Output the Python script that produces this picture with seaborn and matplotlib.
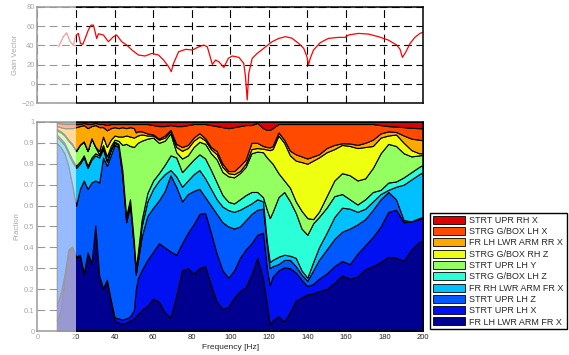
import numpy as np
import matplotlib
matplotlib.use("Agg")
import matplotlib.pyplot as plt
import seaborn as sns
from matplotlib.patches import Patch, Rectangle

# --- gain vector (top panel) ---
gain_freq = [11, 13.4, 15.1, 16.9, 18.6, 19.8, 21.2, 22.3, 23.5, 24.7,
             26.4, 27.8, 29, 29.9, 30.7, 31.6, 34.2, 36.8, 39.4, 41.1,
             43.7, 46.3, 49, 52.4, 55.9, 59.3, 62.8, 65.4, 68, 69.4,
             70.6, 73.2, 76.9, 80.3, 83.8, 86.4, 88.1, 90.7, 92.4, 94.1,
             96.7, 99, 101, 104.5, 107, 107.9, 108.8, 109.6, 111.4, 114,
             117.4, 121.7, 125.2, 128.6, 132, 135.5, 138.1, 139.8, 140.6, 141.5,
             143.2, 146.7, 150.9, 156.2, 159.6, 161.3, 166.5, 171.7, 176.9, 182,
             186.4, 188.1, 189.3, 190.7, 193.3, 195.8, 198.4, 200]
gain_vals = [38.6, 49, 53, 44, 40, 50, 52.4, 42, 41, 47,
             56, 61, 61, 54, 47, 52, 50.7, 43.8, 49, 50.7,
             43.8, 40.3, 35.2, 30, 29, 31.7, 30, 24.8, 18, 12.8,
             21.4, 33.4, 35.9, 35.2, 38.6, 40.3, 38.5, 20.3, 24.8, 23,
             17.2, 26.6, 29, 27.6, 21.4, 7.6, -16.5, 11, 26.6, 31.7,
             37, 43.8, 47.2, 49, 47.5, 42, 37, 28.3, 19.7, 26.6,
             35.2, 42.8, 47.2, 48.3, 48.3, 50.7, 52.4, 51.7, 49, 45.5,
             40.3, 35.9, 27.6, 31.7, 42, 48.3, 52.4, 53.5]

# --- cumulative fractions (bottom panel), top edge of each component ---
freq = [10, 12, 14, 16, 18, 20, 22, 24, 26, 28,
        30, 32, 34, 36, 38, 40, 42, 44, 46, 48,
        50, 51, 52, 54, 57, 60, 63, 66, 69, 72,
        75, 78, 81, 84, 87, 90, 93, 96, 99, 102,
        105, 108, 111, 114, 117, 119, 120.5, 122, 125, 128,
        131, 134, 137, 140, 143, 146, 150, 154, 158, 162,
        166, 170, 174, 178, 182, 186, 190, 194, 198, 200]

top_fr_lh_lwr_arm_fr_x = [0.05, 0.10, 0.25, 0.38, 0.40, 0.35, 0.36, 0.27, 0.37, 0.32,
                          0.50, 0.26, 0.20, 0.24, 0.14, 0.05, 0.04, 0.035, 0.04, 0.05,
                          0.06, 0.07, 0.08, 0.10, 0.12, 0.155, 0.14, 0.09, 0.065, 0.17,
                          0.29, 0.30, 0.275, 0.30, 0.31, 0.22, 0.14, 0.105, 0.115, 0.16,
                          0.19, 0.21, 0.27, 0.35, 0.25, 0.13, 0.03, 0.05, 0.07, 0.045,
                          0.09, 0.145, 0.16, 0.175, 0.18, 0.19, 0.20, 0.23, 0.265, 0.25,
                          0.26, 0.295, 0.31, 0.33, 0.355, 0.35, 0.335, 0.39, 0.425, 0.43]
top_strt_upr_lh_x = [0.12, 0.18, 0.27, 0.39, 0.405, 0.355, 0.365, 0.275, 0.375, 0.325,
                     0.505, 0.265, 0.205, 0.245, 0.15, 0.065, 0.06, 0.055, 0.06, 0.07,
                     0.10, 0.20, 0.25, 0.29, 0.34, 0.38, 0.42, 0.40, 0.38, 0.365,
                     0.42, 0.47, 0.51, 0.56, 0.565, 0.47, 0.37, 0.29, 0.255, 0.29,
                     0.35, 0.39, 0.42, 0.46, 0.47, 0.30, 0.22, 0.26, 0.29, 0.305,
                     0.30, 0.28, 0.245, 0.215, 0.225, 0.25, 0.275, 0.31, 0.335, 0.32,
                     0.37, 0.41, 0.45, 0.50, 0.57, 0.58, 0.52, 0.525, 0.535, 0.54]
top_strt_upr_lh_z = [0.90, 0.88, 0.85, 0.79, 0.70, 0.60, 0.68, 0.72, 0.68, 0.71,
                     0.72, 0.71, 0.83, 0.79, 0.84, 0.89, 0.88, 0.74, 0.52, 0.60,
                     0.40, 0.27, 0.33, 0.45, 0.55, 0.59, 0.625, 0.67, 0.745, 0.69,
                     0.62, 0.655, 0.67, 0.68, 0.64, 0.60, 0.56, 0.52, 0.50, 0.49,
                     0.50, 0.53, 0.56, 0.58, 0.585, 0.42, 0.30, 0.31, 0.32, 0.34,
                     0.34, 0.31, 0.27, 0.24, 0.29, 0.34, 0.39, 0.44, 0.475, 0.49,
                     0.51, 0.535, 0.58, 0.63, 0.665, 0.63, 0.53, 0.525, 0.54, 0.546]
top_fr_rh_lwr_arm_fr_x = [0.93, 0.91, 0.89, 0.85, 0.81, 0.78, 0.80, 0.83, 0.78, 0.82,
                          0.84, 0.83, 0.87, 0.81, 0.865, 0.90, 0.89, 0.755, 0.535, 0.615,
                          0.415, 0.285, 0.35, 0.50, 0.62, 0.68, 0.72, 0.75, 0.77, 0.74,
                          0.69, 0.72, 0.75, 0.77, 0.73, 0.68, 0.63, 0.595, 0.578, 0.57,
                          0.58, 0.595, 0.61, 0.63, 0.62, 0.43, 0.33, 0.34, 0.355, 0.365,
                          0.36, 0.35, 0.29, 0.255, 0.33, 0.40, 0.47, 0.545, 0.59, 0.585,
                          0.57, 0.585, 0.62, 0.655, 0.675, 0.69, 0.70, 0.725, 0.75, 0.76]
top_strg_gbox_lh_z = [0.94, 0.92, 0.90, 0.86, 0.82, 0.79, 0.81, 0.84, 0.79, 0.83,
                      0.85, 0.84, 0.875, 0.815, 0.87, 0.905, 0.895, 0.77, 0.55, 0.63,
                      0.43, 0.30, 0.37, 0.53, 0.66, 0.72, 0.755, 0.795, 0.84, 0.83,
                      0.76, 0.79, 0.82, 0.845, 0.825, 0.77, 0.71, 0.65, 0.618, 0.61,
                      0.63, 0.65, 0.665, 0.665, 0.64, 0.58, 0.54, 0.57, 0.64, 0.665,
                      0.62, 0.565, 0.49, 0.46, 0.515, 0.545, 0.59, 0.645, 0.655, 0.63,
                      0.605, 0.63, 0.665, 0.675, 0.71, 0.715, 0.735, 0.76, 0.785, 0.795]
top_strt_upr_lh_y = [0.96, 0.95, 0.935, 0.91, 0.89, 0.86, 0.89, 0.905, 0.86, 0.92,
                     0.88, 0.845, 0.89, 0.835, 0.885, 0.915, 0.91, 0.89, 0.895, 0.885,
                     0.88, 0.89, 0.90, 0.91, 0.92, 0.925, 0.90, 0.91, 0.945, 0.855,
                     0.825, 0.84, 0.88, 0.905, 0.895, 0.85, 0.82, 0.76, 0.74, 0.735,
                     0.755, 0.785, 0.85, 0.858, 0.855, 0.83, 0.815, 0.80, 0.755, 0.72,
                     0.685, 0.62, 0.575, 0.54, 0.535, 0.57, 0.645, 0.72, 0.755, 0.745,
                     0.72, 0.73, 0.78, 0.85, 0.895, 0.885, 0.85, 0.835, 0.84, 0.842]
top_strg_gbox_rh_z = [0.965, 0.955, 0.94, 0.915, 0.895, 0.862, 0.892, 0.907, 0.862, 0.922,
                      0.882, 0.86, 0.93, 0.88, 0.915, 0.935, 0.93, 0.93, 0.935, 0.93,
                      0.925, 0.93, 0.935, 0.94, 0.935, 0.935, 0.915, 0.925, 0.955, 0.88,
                      0.862, 0.875, 0.91, 0.93, 0.912, 0.87, 0.845, 0.785, 0.755, 0.75,
                      0.765, 0.80, 0.87, 0.875, 0.872, 0.868, 0.865, 0.87, 0.935, 0.90,
                      0.84, 0.815, 0.808, 0.80, 0.815, 0.83, 0.855, 0.87, 0.89, 0.885,
                      0.875, 0.88, 0.885, 0.925, 0.935, 0.94, 0.90, 0.865, 0.85, 0.85]
top_fr_lh_lwr_arm_rr_x = [0.98, 0.975, 0.97, 0.97, 0.97, 0.975, 0.98, 0.985, 0.97, 0.98,
                          0.985, 0.975, 0.975, 0.96, 0.97, 0.975, 0.97, 0.975, 0.97, 0.975,
                          0.97, 0.95, 0.955, 0.955, 0.945, 0.94, 0.92, 0.935, 0.962, 0.895,
                          0.88, 0.89, 0.925, 0.946, 0.922, 0.88, 0.86, 0.80, 0.765, 0.765,
                          0.79, 0.82, 0.90, 0.90, 0.885, 0.88, 0.878, 0.885, 0.95, 0.915,
                          0.862, 0.845, 0.835, 0.825, 0.835, 0.845, 0.875, 0.89, 0.898, 0.897,
                          0.89, 0.90, 0.915, 0.945, 0.955, 0.952, 0.935, 0.92, 0.915, 0.912]
top_strg_gbox_lh_x = [0.995, 0.993, 0.99, 0.99, 0.99, 0.99, 0.99, 0.995, 0.99, 0.99,
                      0.995, 0.99, 0.99, 0.985, 0.99, 0.99, 0.99, 0.99, 0.99, 0.99,
                      0.99, 0.99, 0.99, 0.99, 0.99, 0.985, 0.98, 0.98, 0.985, 0.98,
                      0.98, 0.985, 0.99, 0.99, 0.99, 0.985, 0.98, 0.975, 0.97, 0.975,
                      0.98, 0.985, 0.985, 0.995, 0.97, 0.962, 0.962, 0.97, 0.99, 0.99,
                      0.99, 0.99, 0.99, 0.99, 0.99, 0.99, 0.99, 0.99, 0.99, 0.99,
                      0.99, 0.99, 0.99, 0.985, 0.98, 0.978, 0.975, 0.972, 0.97, 0.97]

# legend order (top to bottom) and colours
labels = ["STRT UPR RH X", "STRG G/BOX LH X", "FR LH LWR ARM RR X",
          "STRG G/BOX RH Z", "STRT UPR LH Y", "STRG G/BOX LH Z",
          "FR RH LWR ARM FR X", "STRT UPR LH Z", "STRT UPR LH X",
          "FR LH LWR ARM FR X"]
colors = ["#dc0000", "#ff4a00", "#ffa800", "#eeff10", "#94ff60",
          "#2affd8", "#00c0ff", "#0058ff", "#0010f0", "#000090"]

sns.set_style("white")
plt.rcParams["font.family"] = ["Liberation Sans", "DejaVu Sans"]

fig = plt.figure(figsize=(5.69, 3.55), dpi=100)
ax_top = fig.add_axes([0.0659, 0.709, 0.6775, 0.272])
ax_bot = fig.add_axes([0.0659, 0.0676, 0.6775, 0.589])

dash = (0, (7, 4))

# top: gain vector
sns.lineplot(x=gain_freq, y=gain_vals, ax=ax_top, color="red", lw=0.9)
ax_top.set_xlim(0, 200)
ax_top.set_ylim(-20, 80)
ax_top.set_xticks(range(0, 201, 20))
ax_top.set_xticklabels([])
ax_top.set_yticks(range(-20, 81, 20))
ax_top.grid(True, color="black", ls=dash, lw=0.8)
ax_top.set_ylabel("Gain Vector", fontsize=5.5, labelpad=2)

# bottom: stacked fractions
edges = np.vstack([np.zeros(len(freq)),
                   top_fr_lh_lwr_arm_fr_x, top_strt_upr_lh_x, top_strt_upr_lh_z,
                   top_fr_rh_lwr_arm_fr_x, top_strg_gbox_lh_z, top_strt_upr_lh_y,
                   top_strg_gbox_rh_z, top_fr_lh_lwr_arm_rr_x, top_strg_gbox_lh_x,
                   np.ones(len(freq))])
layers = np.diff(edges, axis=0)
ax_bot.stackplot(freq, layers, colors=colors[::-1], edgecolor="black", linewidth=0.8)
ax_bot.set_xlim(0, 200)
ax_bot.set_ylim(0, 1)
ax_bot.set_xticks(range(0, 201, 20))
yt = np.round(np.arange(0, 1.01, 0.1), 1)
ax_bot.set_yticks(yt)
ax_bot.set_yticklabels([f"{v:g}" for v in yt])
ax_bot.set_axisbelow(True)
ax_bot.grid(True, axis="y", color="black", ls=dash, lw=0.8)
ax_bot.set_ylabel("Fraction", fontsize=5.5, labelpad=3)
ax_bot.set_xlabel("Frequency [Hz]", fontsize=6, labelpad=2)

for ax in (ax_top, ax_bot):
    ax.tick_params(labelsize=5.5, direction="in", length=2, pad=2)
    for s in ax.spines.values():
        s.set_color("black")
        s.set_linewidth(1.1)

handles = [Patch(facecolor=c, edgecolor="black", lw=0.6) for c in colors]
fig.legend(handles, labels, loc="upper left", bbox_to_anchor=(0.756, 0.4),
           fontsize=6.5, frameon=True, fancybox=False, edgecolor="black",
           framealpha=1, handlelength=3.6, handleheight=1.0, handletextpad=0.45,
           labelspacing=0.24, borderpad=0.3, borderaxespad=0)

# faded region below 20 Hz
fig.add_artist(Rectangle((0, 0), 0.1337, 1, transform=fig.transFigure,
                         facecolor="white", alpha=0.6, edgecolor="none", zorder=10))

fig.savefig("out.png", dpi=100)
